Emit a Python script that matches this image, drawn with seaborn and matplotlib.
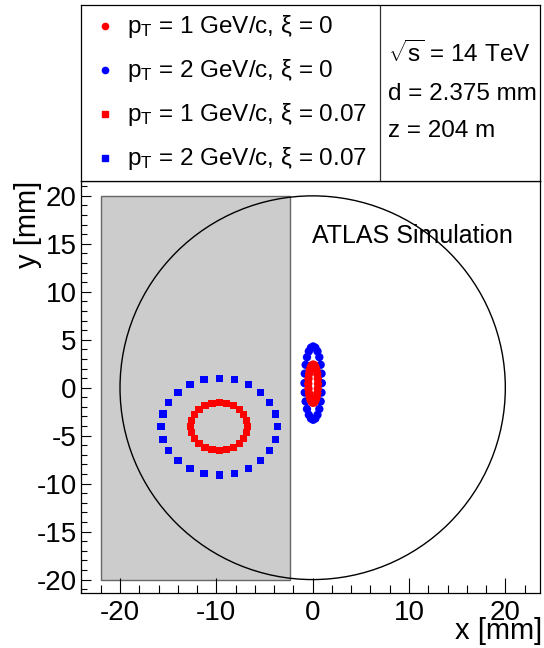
import matplotlib
matplotlib.use('Agg')
import matplotlib.pyplot as plt
from matplotlib.patches import Rectangle, Circle
from matplotlib.ticker import MultipleLocator
import seaborn as sns
import pandas as pd

sns.set_style('white')
plt.rcParams['font.family'] = ['Liberation Sans', 'DejaVu Sans']
plt.rcParams['mathtext.fontset'] = 'custom'
plt.rcParams['mathtext.rm'] = 'Liberation Sans'
plt.rcParams['mathtext.default'] = 'regular'
plt.rcParams['axes.unicode_minus'] = False
plt.rcParams['text.color'] = 'black'
plt.rcParams['axes.labelcolor'] = 'black'
plt.rcParams['xtick.color'] = 'black'
plt.rcParams['ytick.color'] = 'black'

# hit positions at the detector, 24 azimuth values per set [mm]
x_pt1_xi0 = [0.55, 0.53, 0.48, 0.40, 0.30, 0.18, 0.05, -0.08, -0.20, -0.30, -0.38, -0.43,
             -0.45, -0.43, -0.38, -0.30, -0.20, -0.08, 0.05, 0.18, 0.30, 0.40, 0.48, 0.53]
y_pt1_xi0 = [0.42, 0.94, 1.42, 1.83, 2.15, 2.35, 2.42, 2.35, 2.15, 1.83, 1.42, 0.94,
             0.42, -0.10, -0.58, -0.99, -1.31, -1.51, -1.58, -1.51, -1.31, -0.99, -0.58, -0.10]
x_pt2_xi0 = [0.95, 0.92, 0.83, 0.69, 0.50, 0.28, 0.05, -0.18, -0.40, -0.59, -0.73, -0.82,
             -0.85, -0.82, -0.73, -0.59, -0.40, -0.18, 0.05, 0.28, 0.50, 0.69, 0.83, 0.92]
y_pt2_xi0 = [0.48, 1.47, 2.39, 3.18, 3.79, 4.17, 4.30, 4.17, 3.79, 3.18, 2.39, 1.47,
             0.48, -0.51, -1.43, -2.22, -2.83, -3.21, -3.34, -3.21, -2.83, -2.22, -1.43, -0.51]
x_pt1_xi007 = [-6.75, -6.85, -7.15, -7.61, -8.23, -8.94, -9.70, -10.46, -11.18, -11.79, -12.26, -12.55,
               -12.65, -12.55, -12.26, -11.79, -11.18, -10.46, -9.70, -8.94, -8.23, -7.61, -7.15, -6.85]
y_pt1_xi007 = [-4.05, -3.40, -2.80, -2.28, -1.89, -1.64, -1.55, -1.64, -1.89, -2.28, -2.80, -3.40,
               -4.05, -4.70, -5.30, -5.82, -6.22, -6.46, -6.55, -6.46, -6.22, -5.82, -5.30, -4.70]
x_pt2_xi007 = [-3.65, -3.86, -4.46, -5.42, -6.68, -8.13, -9.70, -11.27, -12.73, -13.98, -14.94, -15.54,
               -15.75, -15.54, -14.94, -13.98, -12.73, -11.27, -9.70, -8.13, -6.68, -5.42, -4.46, -3.86]
y_pt2_xi007 = [-4.05, -2.74, -1.53, -0.48, 0.32, 0.83, 1.00, 0.83, 0.32, -0.48, -1.53, -2.74,
               -4.05, -5.36, -6.58, -7.62, -8.42, -8.93, -9.10, -8.93, -8.42, -7.62, -6.58, -5.36]

labels = ['p$_{T}$ = 1 GeV/c, ξ = 0', 'p$_{T}$ = 2 GeV/c, ξ = 0',
          'p$_{T}$ = 1 GeV/c, ξ = 0.07', 'p$_{T}$ = 2 GeV/c, ξ = 0.07']
info = ['$\\sqrt{s}$ = 14 TeV', 'd = 2.375 mm', 'z = 204 m']

shade_x = [-22.0, -2.375]
shade_y = [-20.0, 20.0]
aperture_r = 20.0

df0 = pd.concat([
    pd.DataFrame({'x': x_pt2_xi0, 'y': y_pt2_xi0, 'pt': 2}),
    pd.DataFrame({'x': x_pt1_xi0, 'y': y_pt1_xi0, 'pt': 1}),
])
df7 = pd.concat([
    pd.DataFrame({'x': x_pt1_xi007, 'y': y_pt1_xi007, 'pt': 1}),
    pd.DataFrame({'x': x_pt2_xi007, 'y': y_pt2_xi007, 'pt': 2}),
])
pal = {1: '#ff0000', 2: '#0000ff'}

fig = plt.figure(figsize=(5.44, 6.48), dpi=100)
ax = fig.add_axes([81 / 544, 55 / 648, 459 / 544, 412 / 648])
leg = fig.add_axes([81 / 544, 467 / 648, 459 / 544, 176 / 648])

ax.add_patch(Rectangle((shade_x[0], shade_y[0]), shade_x[1] - shade_x[0], shade_y[1] - shade_y[0],
                       facecolor='#cccccc', edgecolor='#666666', lw=1.0, zorder=0))
ax.add_patch(Circle((0, 0), aperture_r, fill=False, edgecolor='black', lw=1.0, zorder=1))

sns.scatterplot(x='x', y='y', data=df0, hue='pt', palette=pal, marker='o', s=36,
                linewidth=0, legend=False, ax=ax, zorder=3)
sns.scatterplot(x='x', y='y', data=df7, hue='pt', palette=pal, marker='s', s=27,
                linewidth=0, legend=False, ax=ax, zorder=3)

ax.set_xlim(-24.05, 23.6)
ax.set_ylim(-21.4, 21.55)
ax.xaxis.set_major_locator(MultipleLocator(10))
ax.xaxis.set_minor_locator(MultipleLocator(2))
ax.yaxis.set_major_locator(MultipleLocator(5))
ax.yaxis.set_minor_locator(MultipleLocator(1))
ax.tick_params(axis='x', which='major', direction='in', length=11, width=0.8, labelsize=20, pad=5)
ax.tick_params(axis='x', which='minor', direction='in', length=5.5, width=0.8)
ax.tick_params(axis='y', which='major', direction='in', length=7.5, width=0.8, labelsize=20, pad=3)
ax.tick_params(axis='y', which='minor', direction='in', length=4, width=0.8)
ax.tick_params(bottom=True, left=True, which='both')
for s in ax.spines.values():
    s.set_color('black')
    s.set_linewidth(0.9)

ax.set_xlabel('x [mm]', fontsize=21, loc='right')
ax.set_ylabel('y [mm]', fontsize=21, loc='top')
ax.xaxis.set_label_coords(1.004, -0.058)
ax.xaxis.label.set_va('top')
ax.yaxis.set_label_coords(-0.085, 1.0)

ax.text(0.503, 0.849, 'ATLAS Simulation', transform=ax.transAxes, fontsize=18, va='baseline')

# legend / info box
leg.set_xlim(0, 1)
leg.set_ylim(0, 1)
leg.set_xticks([])
leg.set_yticks([])
for s in leg.spines.values():
    s.set_color('black')
    s.set_linewidth(0.9)
leg.axvline(0.651, color='#333333', lw=0.9)

row_y = [0.839, 0.591, 0.342, 0.093]
mk = ['o', 'o', 's', 's']
cols = ['#ff0000', '#0000ff', '#ff0000', '#0000ff']
for yy, lab, m, c in zip(row_y, labels, mk, cols):
    leg.plot([0.052], [yy + 0.04], marker=m, color=c, markersize=4.5 if m == 'o' else 4, ls='none')
    leg.text(0.100, yy, lab, fontsize=17.5, va='baseline')
for yy, t in zip([0.678, 0.460, 0.252], info):
    leg.text(0.669, yy, t, fontsize=17.5, va='baseline')

fig.savefig('out.png', dpi=100)
